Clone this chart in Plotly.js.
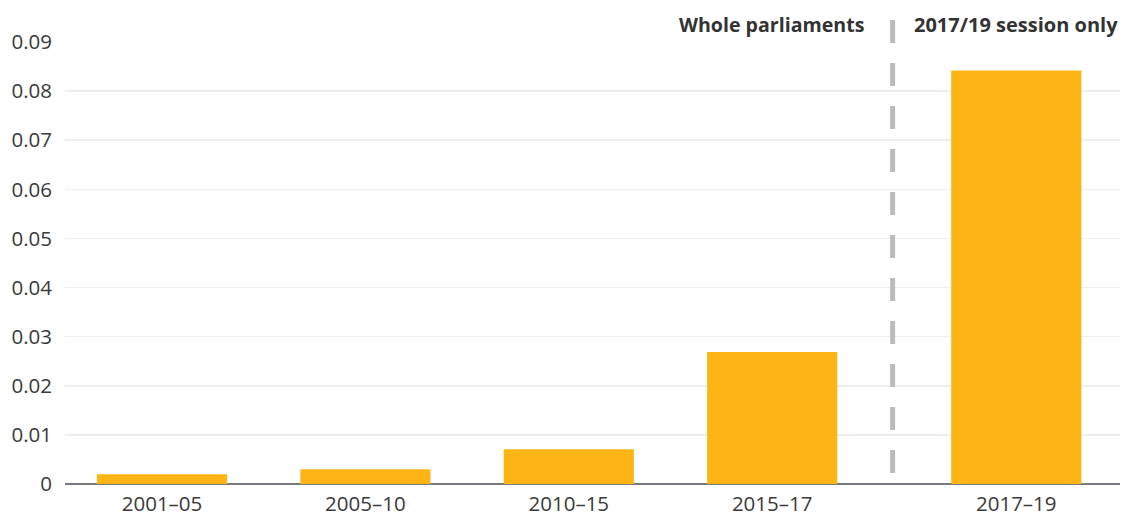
<!DOCTYPE html>
<html>
<head>
<meta charset="utf-8">
<script src="https://cdn.plot.ly/plotly-3.0.1.min.js"></script>
<style>html,body{margin:0;padding:0;background:#fff;}#chart{width:1126px;height:517px;}</style>
</head>
<body>
<div id="chart"></div>
<script>
const categories = ["2001–05", "2005–10", "2010–15", "2015–17", "2017–19"];
const values = [0.002, 0.003, 0.0071, 0.0269, 0.0842];
const leftLabel = "Whole parliaments";
const rightLabel = "2017/19 session only";

// positions: the last category is set slightly apart from the whole-parliament group
const xpos = categories.map((c, i) => i + (i >= 4 ? 0.2 : 0));
const dividerX = 3.592;

const font = "'Open Sans', sans-serif";

Plotly.newPlot("chart", [{
  type: "bar",
  x: xpos,
  y: values,
  width: 0.64,
  marker: {color: "#FDB515"},
  hoverinfo: "skip"
}], {
  width: 1126, height: 517,
  margin: {l: 65, r: 6, t: 42, b: 33},
  paper_bgcolor: "#fff", plot_bgcolor: "#fff",
  showlegend: false,
  font: {family: font, color: "#3a3a3a", size: 20},
  xaxis: {
    range: [-0.477, 4.71],
    tickvals: xpos, ticktext: categories,
    showgrid: false, zeroline: false,
    showline: false, ticks: "",
    ticklabelstandoff: 5,
    tickfont: {size: 20.5, color: "#3a3a3a"}
  },
  yaxis: {
    range: [0, 0.09],
    dtick: 0.01,
    tickformat: ".2~f",
    showgrid: true, gridcolor: "#eeeeee", gridwidth: 1.5,
    zeroline: true, zerolinecolor: "#777b80", zerolinewidth: 2.5,
    showline: false, ticks: "",
    ticklabelstandoff: 12,
    tickfont: {size: 20.5, color: "#3a3a3a"}
  },
  shapes: [{
    type: "line", xref: "x", yref: "paper",
    x0: dividerX, x1: dividerX, y0: (484 - 20) / 442, y1: (484 - 473) / 442,
    line: {color: "#bbbbbb", width: 5, dash: "23px,20px"}
  }],
  annotations: [
    {text: "<b>" + leftLabel + "</b>", xref: "paper", yref: "paper",
     x: (866 - 65) / 1055, y: (484 - 25) / 442, xanchor: "right", yanchor: "middle",
     showarrow: false, font: {size: 19.6, color: "#333"}},
    {text: "<b>" + rightLabel + "</b>", xref: "paper", yref: "paper",
     x: (912 - 65) / 1055, y: (484 - 25) / 442, xanchor: "left", yanchor: "middle",
     showarrow: false, font: {size: 20, color: "#333"}}
  ]
}, {displayModeBar: false, staticPlot: true});
</script>
</body>
</html>
